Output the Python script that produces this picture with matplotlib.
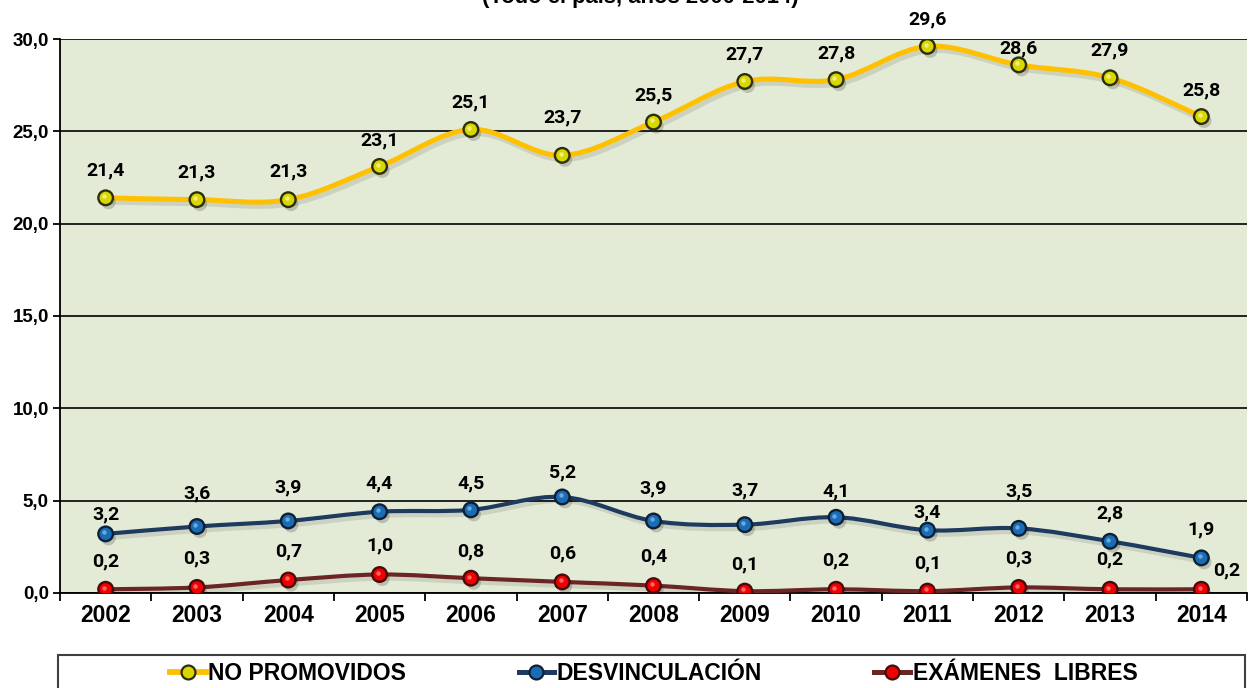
import matplotlib
matplotlib.use('Agg')
import matplotlib.pyplot as plt
from matplotlib.path import Path
from matplotlib.patches import PathPatch, Rectangle
from matplotlib.lines import Line2D
import matplotlib.patheffects as pe
import matplotlib.transforms as mtrans

years = ['2002', '2003', '2004', '2005', '2006', '2007', '2008',
         '2009', '2010', '2011', '2012', '2013', '2014']
no_promovidos = [21.4, 21.3, 21.3, 23.1, 25.1, 23.7, 25.5, 27.7, 27.8, 29.6, 28.6, 27.9, 25.8]
desvinculacion = [3.2, 3.6, 3.9, 4.4, 4.5, 5.2, 3.9, 3.7, 4.1, 3.4, 3.5, 2.8, 1.9]
examenes_libres = [0.2, 0.3, 0.7, 1.0, 0.8, 0.6, 0.4, 0.1, 0.2, 0.1, 0.3, 0.2, 0.2]
series_names = ['NO PROMOVIDOS', 'DESVINCULACIÓN', 'EXÁMENES  LIBRES']
yticks = [0, 5, 10, 15, 20, 25, 30]

# label offsets above the marker, in pixels (as placed in the original)
off_np = [27, 27, 28, 26, 27, 38, 27, 27, 26, 27, 16, 27, 26]
off_de = [19, 33, 34, 28, 26, 25, 33, 34, 26, 18, 37, 28, 28]
off_ex = [28, 29, 29, 29, 27, 28, 29, 27, 29, 28, 29, 30, 19]

LABEL_FONT = ['Roboto', 'DejaVu Sans']
AXIS_FONT = ['Liberation Sans', 'DejaVu Sans']


def smooth_path(xs, ys):
    # Excel-style smoothed line: Catmull-Rom segments as cubic Beziers
    n = len(xs)
    verts = [(xs[0], ys[0])]
    codes = [Path.MOVETO]
    for i in range(n - 1):
        x0, y0 = (xs[i - 1], ys[i - 1]) if i > 0 else (xs[i], ys[i])
        x1, y1 = xs[i], ys[i]
        x2, y2 = xs[i + 1], ys[i + 1]
        x3, y3 = (xs[i + 2], ys[i + 2]) if i + 2 < n else (x2, y2)
        c1 = (x1 + (x2 - x0) / 6.0, y1 + (y2 - y0) / 6.0)
        c2 = (x2 - (x3 - x1) / 6.0, y2 - (y3 - y1) / 6.0)
        verts += [c1, c2, (x2, y2)]
        codes += [Path.CURVE4] * 3
    return Path(verts, codes)


fig = plt.figure(figsize=(12.5, 6.88), dpi=100)
ax = fig.add_axes([0.048, 0.1381, 0.9496, 0.8052])
ax.set_facecolor('#E3EAD5')

x = list(range(len(years)))

styles = [
    (no_promovidos, off_np, '#FFC000', 3.6, '#D8D800', '#2E2E0A', '#F4F4A0'),
    (desvinculacion, off_de, '#1F3A5F', 3.0, '#1A6DB5', '#0D2035', '#7FB6E6'),
    (examenes_libres, off_ex, '#6B2525', 3.0, '#F00000', '#4A0A0A', '#FF8080'),
]

shadow = [pe.SimpleLineShadow(offset=(2, -3), shadow_color='k', alpha=0.10), pe.Normal()]
mshadow = [pe.SimplePatchShadow(offset=(2, -3), shadow_rgbFace='k', alpha=0.18), pe.Normal()]
hl = mtrans.offset_copy(ax.transData, fig=fig, x=-1.2, y=1.2, units='points')

for vals, offs, lc, lw, mfc, mec, hc in styles:
    patch = PathPatch(smooth_path(x, vals), fill=False, edgecolor=lc, lw=lw,
                      capstyle='round', joinstyle='round', zorder=3)
    patch.set_path_effects(shadow)
    ax.add_patch(patch)
    ax.plot(x, vals, linestyle='none', marker='o', ms=10.5, mfc=mfc, mec=mec,
            mew=1.7, zorder=4, path_effects=mshadow)
    ax.plot(x, vals, linestyle='none', marker='o', ms=3.2, mfc=hc, mec='none',
            alpha=0.8, zorder=4.5, transform=hl)

for vals, offs, lc, lw, mfc, mec, hc in styles:
    for i, v in enumerate(vals):
        dx = 0
        if vals is examenes_libres and i == len(vals) - 1:
            dx = 25
        ax.annotate(f'{v:.1f}'.replace('.', ','), (i, v),
                    xytext=(dx * 0.72, offs[i] * 0.72), textcoords='offset points',
                    ha='center', va='center', fontsize=14, fontweight='bold',
                    family=LABEL_FONT, color='black', zorder=5)

ax.set_xlim(-0.5, 12.5)
ax.set_ylim(0, 30)
ax.set_yticks(yticks)
ax.set_yticklabels([f'{t:.1f}'.replace('.', ',') for t in yticks],
                   fontsize=13.5, fontweight='bold', family=AXIS_FONT)
ax.yaxis.grid(True, color='black', lw=1.2)
ax.set_axisbelow(True)

ax.set_xticks([i - 0.5 for i in range(len(years) + 1)])
ax.set_xticklabels([])
ax.set_xticks(x, minor=True)
ax.set_xticklabels(years, minor=True, fontsize=16.5, fontweight='bold', family=AXIS_FONT)
ax.tick_params(axis='x', which='major', direction='out', length=6, width=1.3, color='black')
ax.tick_params(axis='x', which='minor', length=0, pad=8)
ax.tick_params(axis='y', direction='out', length=5, width=1.3, color='black', pad=3)

for s in ['top', 'right']:
    ax.spines[s].set_visible(False)
ax.spines['left'].set_color('black')
ax.spines['left'].set_linewidth(1.3)
ax.spines['bottom'].set_color('black')
ax.spines['bottom'].set_linewidth(1.3)

# title, partly cut off at the top of the image
fig.text(0.512, 1 - 3 / 688, '(Todo el país, años 2000-2014)', ha='center', va='baseline',
         fontsize=15.8, fontweight='bold', family=AXIS_FONT)

# legend
handles = [Line2D([], [], color=lc, lw=lw + 0.6, marker='o', ms=10, mfc=mfc, mec=mec, mew=1.6)
           for vals, offs, lc, lw, mfc, mec, hc in styles]
fig.legend(handles, series_names, ncol=3, loc='center', bbox_to_anchor=(0.523, 14 / 688),
           frameon=False, columnspacing=4.9, handlelength=1.55, handletextpad=0.12,
           prop={'family': AXIS_FONT, 'weight': 'bold', 'size': 16.5})
fig.patches.append(Rectangle((58 / 1250, -0.05), (1245 - 58) / 1250, 33 / 688 + 0.05,
                             fill=False, edgecolor='#404040', lw=1.5,
                             transform=fig.transFigure, figure=fig))

fig.savefig('out.png', dpi=100)
